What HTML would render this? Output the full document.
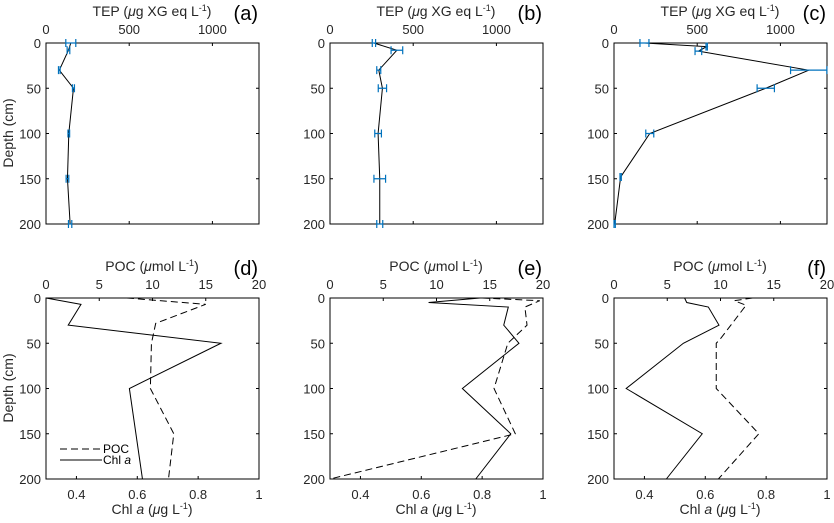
<!DOCTYPE html>
<html><head><meta charset="utf-8"><style>
body{margin:0;background:#fff}
svg{display:block;font-family:"Liberation Sans",Arial,sans-serif}
</style></head><body>
<svg id="fig" width="834" height="523" viewBox="0 0 834 523"></svg>
<script>
// ---- data ----
const tepDepthA=[0,8,30,50,100,150,200];
const tepA=[149,135,80,165,137,129,145];
const tepErrA=[30,8,5,6,5,8,10];
const tepDepthB=[0,8,30,50,100,150,200];
const tepB=[264,402,293,315,289,299,299];
const tepErrB=[10,35,12,25,20,35,18];
const tepDepthC=[0,4,9,30,50,100,148,200];
const tepC=[183,557,507,1170,912,215,40,4];
const tepErrC=[27,4,20,109,52,24,4,4];
const chlDepthD=[0,7,30,50,100,200];
const chlD=[0.3,0.415,0.373,0.875,0.574,0.617];
const pocDepthD=[0,7,28,50,100,150,200];
const pocD=[7.6,15.0,10.3,9.9,9.8,12.0,11.5];
const chlDepthE=[0,5,10,30,50,100,150,200];
const chlE=[0.793,0.624,0.886,0.871,0.921,0.735,0.894,0.779];
const pocDepthE=[0,3,10,30,50,100,150,200];
const pocE=[14.3,19.7,18.3,18.5,16.7,15.4,17.4,0];
const chlDepthF=[0,5,10,30,50,100,150,200];
const chlF=[0.532,0.539,0.61,0.645,0.528,0.34,0.59,0.472];
const pocDepthF=[0,3,8,45,50,100,150,200];
const pocF=[13.0,11.3,12.4,10.0,9.6,9.6,13.6,9.8];
const tepTicks=[0,500,1000];
const pocTicks=[0,5,10,15,20];
const chlTicks=[0.4,0.6,0.8,1];
const depthTicks=[0,50,100,150,200];

const NS="http://www.w3.org/2000/svg";
const svg=document.getElementById('fig');
function el(tag,attrs,parent,txt){const e=document.createElementNS(NS,tag);for(const k in attrs)e.setAttribute(k,attrs[k]);if(txt!==undefined)e.textContent=txt;(parent||svg).appendChild(e);return e;}
const W=213;
function yOf(top,d){return top+(d/200)*181;}

function frame(g,left,top){
  el('rect',{x:left,y:top,width:W,height:181,fill:'none',stroke:'#000','stroke-width':1},g);
  depthTicks.forEach(d=>{
    const y=yOf(top,d);
    el('line',{x1:left,y1:y,x2:left+3,y2:y,stroke:'#000'},g);
    el('line',{x1:left+W,y1:y,x2:left+W-3,y2:y,stroke:'#000'},g);
    const t=el('text',{x:left-5,y:y+5,'text-anchor':'end','font-size':13,fill:'#262626'},g,String(d));
    
    
  });
}
function tepPanel(name,left,top,depths,vals,errs,letter){
  const g=el('g',{});
  
  
  frame(g,left,top);
  const x=v=>left+v/1280*W;
  tepTicks.forEach(v=>{
    el('line',{x1:x(v),y1:top,x2:x(v),y2:top+3,stroke:'#000'},g);
    el('line',{x1:x(v),y1:top+181,x2:x(v),y2:top+178,stroke:'#000'},g);
    el('text',{x:x(v),y:top-9,'text-anchor':'middle','font-size':13,fill:'#262626'},g,String(v));
  });
  const tt=el('text',{x:left+106,y:top-27,'text-anchor':'middle','font-size':14,fill:'#262626'},g);
  
  
  tt.innerHTML='TEP (<tspan font-style="italic">μ</tspan>g XG eq L<tspan font-size="9" dy="-5">-1</tspan><tspan dy="5">)</tspan>';
  el('text',{x:left+W-1,y:top-23,'text-anchor':'end','font-size':20,fill:'#000'},g,'('+letter+')');
  const pts=depths.map((d,i)=>x(vals[i])+','+yOf(top,d)).join(' ');
  const pl=el('polyline',{points:pts,fill:'none',stroke:'#000','stroke-width':1},g);
  
  
  depths.forEach((d,i)=>{
    const y=yOf(top,d),a=x(vals[i]-errs[i]),b=x(vals[i]+errs[i]);
    const eb=el('path',{d:`M${a},${y}H${b}M${a},${y-4}V${y+4}M${b},${y-4}V${y+4}`,stroke:'#0072BD','stroke-width':1.2,fill:'none'},g);
    
    
  });
}
function chlPanel(name,left,top,cd,cv,pd,pv,letter,legend){
  const g=el('g',{});
  
  
  frame(g,left,top);
  const xp=v=>left+v/20*W, xc=v=>left+(v-0.3)/0.7*W;
  pocTicks.forEach(v=>{
    el('line',{x1:xp(v),y1:top,x2:xp(v),y2:top+3,stroke:'#000'},g);
    el('text',{x:xp(v),y:top-9,'text-anchor':'middle','font-size':13,fill:'#262626'},g,String(v));
  });
  chlTicks.forEach(v=>{
    el('line',{x1:xc(v),y1:top+181,x2:xc(v),y2:top+178,stroke:'#000'},g);
    el('text',{x:xc(v),y:top+201,'text-anchor':'middle','font-size':13,fill:'#262626'},g,String(v));
  });
  const pt=el('text',{x:left+106,y:top-27,'text-anchor':'middle','font-size':14,fill:'#262626'},g);
  
  
  pt.innerHTML='POC (<tspan font-style="italic">μ</tspan>mol L<tspan font-size="9" dy="-5">-1</tspan><tspan dy="5">)</tspan>';
  const ct=el('text',{x:left+106,y:top+216,'text-anchor':'middle','font-size':14,fill:'#262626'},g);
  
  
  ct.innerHTML='Chl <tspan font-style="italic">a</tspan> (<tspan font-style="italic">μ</tspan>g L<tspan font-size="9" dy="-5">-1</tspan><tspan dy="5">)</tspan>';
  el('text',{x:left+W-1,y:top-23,'text-anchor':'end','font-size':20,fill:'#000'},g,'('+letter+')');
  const c=el('polyline',{points:cd.map((d,i)=>xc(cv[i])+','+yOf(top,d)).join(' '),fill:'none',stroke:'#000','stroke-width':1},g);
  
  
  const p=el('polyline',{points:pd.map((d,i)=>xp(pv[i])+','+yOf(top,d)).join(' '),fill:'none',stroke:'#000','stroke-width':1,'stroke-dasharray':'7,4'},g);
  
  
  if(legend){
    const lg=el('g',{},g);
    
    
    el('line',{x1:left+14,y1:top+151,x2:left+56,y2:top+151,stroke:'#000','stroke-dasharray':'7,4'},lg);
    el('text',{x:left+57,y:top+155,'font-size':12,fill:'#000'},lg,'POC');
    el('line',{x1:left+14,y1:top+162,x2:left+56,y2:top+162,stroke:'#000'},lg);
    const t=el('text',{x:left+57,y:top+166,'font-size':12,fill:'#000'},lg);
    t.innerHTML='Chl <tspan font-style="italic">a</tspan>';
  }
}
tepPanel('a',46,43,tepDepthA,tepA,tepErrA,'a');
tepPanel('b',330,43,tepDepthB,tepB,tepErrB,'b');
tepPanel('c',614,43,tepDepthC,tepC,tepErrC,'c');
chlPanel('d',46,298,chlDepthD,chlD,pocDepthD,pocD,'d',true);
chlPanel('e',330,298,chlDepthE,chlE,pocDepthE,pocE,'e',false);
chlPanel('f',614,298,chlDepthF,chlF,pocDepthF,pocF,'f',false);
[133,388].forEach(y=>{
  const t=el('text',{x:13,y:y,transform:`rotate(-90 13 ${y})`,'text-anchor':'middle','font-size':14,fill:'#262626'},svg,'Depth (cm)');
  
  
});
</script>
</body></html>
